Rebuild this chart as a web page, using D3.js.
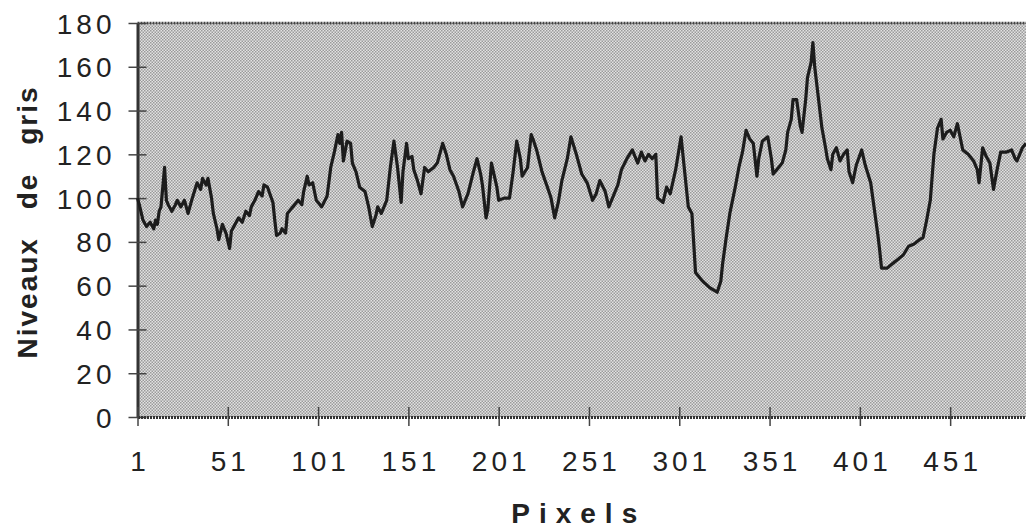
<html>
<head>
<style>
  body { margin: 0; background: #fff; }
  text { font-family: "Liberation Sans", Arial, Helvetica, sans-serif; fill: #222; }
</style>
</head>
<body>
<svg id="chart" width="1026" height="529"></svg>
<script src="https://d3js.org/d3.v7.min.js"></script>
<script>
  // profile: pixel index and grey level (10 per row)
  let pixelIdx = [
    1, 2, 4, 6, 8, 10, 11, 12, 13, 14,
    16, 17, 18, 20, 22, 23, 25, 27, 28, 29,
    31, 34, 36, 37, 39, 40, 42, 43, 45, 46,
    48, 50, 52, 53, 55, 57, 59, 61, 63, 64,
    66, 68, 70, 71, 73, 76, 77, 78, 80, 81,
    83, 84, 86, 87, 89, 90, 92, 93, 95, 96,
    98, 100, 103, 106, 108, 110, 112, 113, 114, 115,
    117, 119, 120, 122, 124, 127, 129, 131, 133, 134,
    136, 139, 141, 143, 145, 147, 148, 150, 151, 153,
    154, 156, 158, 160, 162, 165, 167, 170, 172, 174,
    176, 179, 181, 184, 187, 189, 191, 192, 194, 195,
    197, 200, 201, 204, 207, 209, 211, 213, 214, 217,
    219, 220, 222, 225, 228, 230, 232, 234, 236, 239,
    241, 244, 247, 250, 253, 255, 257, 260, 262, 264,
    267, 269, 272, 275, 278, 280, 282, 284, 286, 288,
    289, 292, 294, 296, 299, 302, 304, 306, 308, 310,
    312, 314, 318, 322, 324, 325, 327, 329, 332, 334,
    336, 338, 340, 342, 344, 345, 347, 350, 352, 353,
    356, 358, 360, 361, 363, 364, 366, 368, 369, 371,
    372, 374, 375, 376, 378, 380, 382, 383, 385, 386,
    388, 390, 392, 394, 395, 397, 399, 402, 404, 407,
    409, 411, 412, 413, 416, 419, 422, 425, 428, 431,
    434, 436, 438, 440, 442, 444, 446, 447, 449, 451,
    453, 455, 457, 458, 461, 464, 466, 467, 469, 471,
    473, 475, 477, 479, 482, 485, 487, 488, 490, 491,
    493
  ];
  let grayLevel = [
    100, 97, 90, 87, 89, 86, 90, 88, 94, 96,
    114, 99, 97, 94, 97, 99, 96, 99, 96, 93,
    99, 107, 104, 109, 106, 109, 100, 93, 86, 81,
    88, 84, 77, 85, 88, 91, 89, 94, 92, 96,
    99, 103, 101, 106, 105, 98, 90, 83, 84, 86,
    84, 93, 95, 96, 98, 99, 97, 103, 110, 106,
    107, 99, 96, 101, 114, 121, 129, 125, 130, 117,
    126, 125, 116, 112, 105, 103, 96, 87, 92, 96,
    93, 99, 114, 126, 114, 98, 112, 125, 118, 119,
    113, 108, 102, 114, 112, 114, 116, 125, 120, 113,
    110, 103, 96, 102, 112, 118, 111, 106, 91, 95,
    116, 105, 99, 100, 100, 112, 126, 118, 110, 114,
    129, 127, 122, 112, 105, 100, 91, 98, 108, 118,
    128, 120, 111, 107, 99, 102, 108, 103, 96, 100,
    106, 113, 118, 122, 116, 121, 117, 120, 118, 120,
    100, 98, 105, 102, 113, 128, 112, 96, 93, 66,
    64, 62, 59, 57, 62, 70, 82, 93, 105, 114,
    121, 131, 127, 125, 110, 118, 126, 128, 118, 111,
    114, 116, 122, 130, 136, 145, 145, 133, 130, 145,
    155, 162, 171, 160, 146, 132, 123, 118, 113, 120,
    123, 117, 120, 122, 112, 107, 115, 122, 115, 107,
    95, 83, 76, 68, 68, 70, 72, 74, 78, 79,
    81, 82, 90, 99, 120, 132, 136, 127, 130, 131,
    128, 134, 126, 122, 120, 117, 113, 107, 123, 119,
    116, 104, 113, 121, 121, 122, 118, 117, 121, 123,
    125
  ];

  let yTicks = [0, 20, 40, 60, 80, 100, 120, 140, 160, 180];
  let xTicks = [1, 51, 101, 151, 201, 251, 301, 351, 401, 451];
  let yTitle = "Niveaux de gris";
  let xTitle = "Pixels";

  let svg = d3.select("#chart");
  let plotLeft = 137.5, plotRight = 1026, plotTop = 23, plotBottom = 417;

  let x = d3.scaleLinear().domain([1, 493]).range([plotLeft, plotRight]);
  let y = d3.scaleLinear().domain([0, 180]).range([plotBottom, plotTop]);

  // dotted grey fill of the plot area
  let pat = svg.append("defs").append("pattern")
      .attr("id", "dots")
      .attr("width", 3).attr("height", 3)
      .attr("patternUnits", "userSpaceOnUse");
  pat.append("rect").attr("width", 3).attr("height", 3).attr("fill", "#e2e2e2");
  pat.append("rect").attr("x", 0).attr("y", 0).attr("width", 1.5).attr("height", 1.5).attr("fill", "#9a9a9a");
  pat.append("rect").attr("x", 1.5).attr("y", 1.5).attr("width", 1.5).attr("height", 1.5).attr("fill", "#9a9a9a");

  svg.append("rect")
      .attr("x", plotLeft).attr("y", plotTop)
      .attr("width", plotRight - plotLeft).attr("height", plotBottom - plotTop)
      .attr("fill", "url(#dots)");

  // dotted top edge
  svg.append("line")
      .attr("x1", plotLeft).attr("x2", plotRight).attr("y1", plotTop).attr("y2", plotTop)
      .attr("stroke", "#444").attr("stroke-width", 2.5).attr("stroke-dasharray", "2,1");

  // y axis
  let yAxis = svg.append("g").attr("transform", `translate(${plotLeft},0)`)
      .call(d3.axisLeft(y).tickValues(yTicks).tickSize(0).tickPadding(26).tickFormat(d3.format("d")));
  yAxis.select(".domain").attr("stroke", "#333").attr("stroke-width", 3);
  yAxis.selectAll(".tick line").attr("x1", -9).attr("x2", 9).attr("stroke", "#444").attr("stroke-width", 1.5);
  yAxis.selectAll(".tick text")
      .attr("font-size", 28).attr("letter-spacing", 4).attr("dx", 4)
      .attr("dy", "0.36em").attr("fill", "#222");

  // x axis
  let xAxis = svg.append("g").attr("transform", `translate(0,${plotBottom})`)
      .call(d3.axisBottom(x).tickValues(xTicks).tickSize(0).tickPadding(34).tickFormat(d3.format("d")));
  xAxis.select(".domain").attr("stroke", "#333").attr("stroke-width", 3).attr("stroke-dasharray", "2,1");
  xAxis.selectAll(".tick line").attr("y1", -10).attr("y2", 9).attr("stroke", "#444").attr("stroke-width", 1.5);
  xAxis.selectAll(".tick text")
      .attr("font-size", 28).attr("letter-spacing", 4).attr("dx", 2).attr("fill", "#222");

  // profile line
  let line = d3.line()
      .x((d, i) => x(pixelIdx[i]))
      .y(d => y(d));

  svg.append("path")
      .datum(grayLevel)
      .attr("d", line)
      .attr("fill", "none")
      .attr("stroke", "#1c1c1c")
      .attr("stroke-width", 3.2)
      .attr("stroke-linejoin", "round");

  // titles
  svg.append("text")
      .attr("transform", `translate(37,${(plotTop + plotBottom) / 2 + 2}) rotate(-90)`)
      .attr("text-anchor", "middle")
      .attr("font-size", 28).attr("font-weight", "bold")
      .attr("letter-spacing", 2).attr("word-spacing", 18)
      .text(yTitle);

  svg.append("text")
      .attr("x", (plotLeft + plotRight) / 2 - 3).attr("y", 523)
      .attr("text-anchor", "middle")
      .attr("font-size", 28).attr("font-weight", "bold")
      .attr("letter-spacing", 9)
      .text(xTitle);
</script>
</body>
</html>
